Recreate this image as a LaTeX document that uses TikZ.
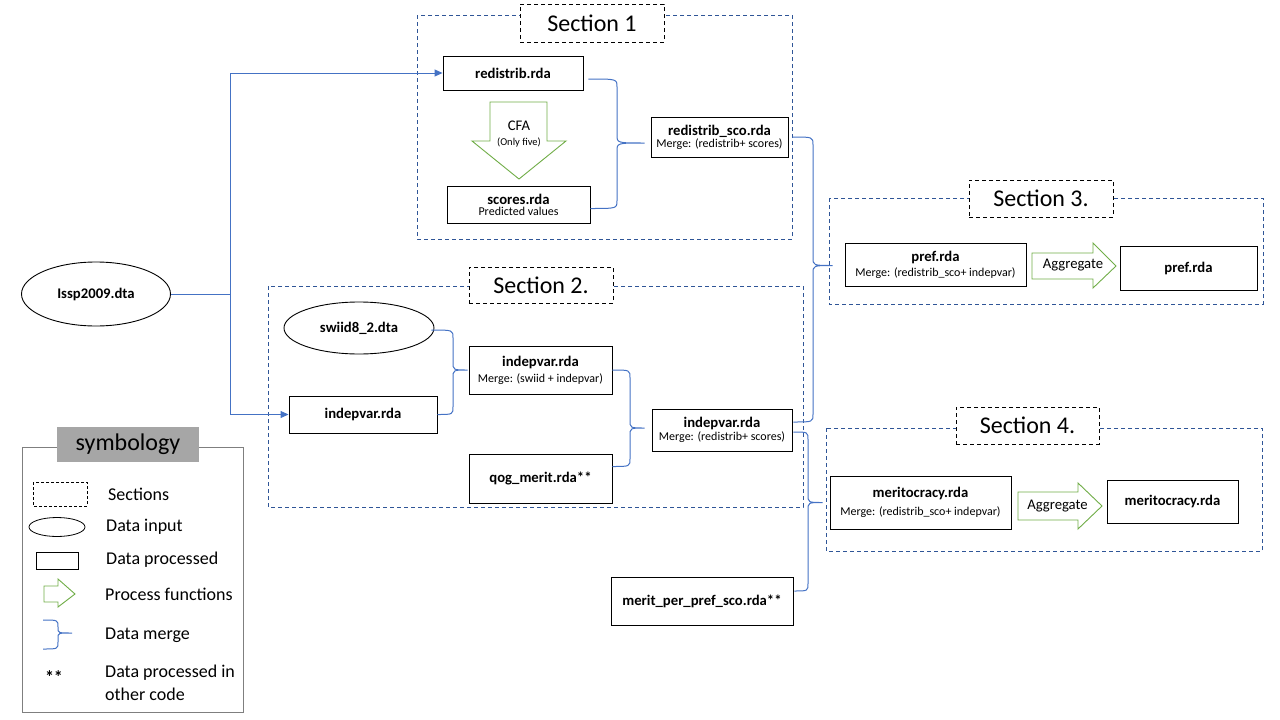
\documentclass[tikz,border=0pt]{standalone}
\usepackage{fontspec}
\setmainfont{Carlito}
\usetikzlibrary{arrows.meta,shapes.geometric,calc}
\definecolor{cblue}{HTML}{4472C4}
\definecolor{sblue}{HTML}{2F5597}
\definecolor{cgreen}{HTML}{70AD47}
\definecolor{lgray}{HTML}{A6A6A6}
\definecolor{bgray}{HTML}{7F7F7F}
\newcommand{\nodebf}{\fontsize{14.7}{15}\selectfont\bfseries}
\newcommand{\nodesm}{\fontsize{12}{13}\selectfont\mdseries}
\newcommand{\mergebrace}[4]{%
 \draw[mrg] let \p1=(#1),\p2=(#2),\p3=(#4) in
 (\p1) .. controls (#3pt,\y1) .. (#3pt,\y1-8pt) -- (#3pt,\y3+8pt) .. controls (#3pt,\y3) .. (\p3)
 (\p2) .. controls (#3pt,\y2) .. (#3pt,\y2+8pt) -- (#3pt,\y3-8pt) .. controls (#3pt,\y3) .. (\p3);}
\tikzset{
 box/.style={draw=black, line width=0.9pt, inner sep=0pt, align=center, fill=white},
 ell/.style={ellipse, draw=black, line width=0.9pt, inner sep=0pt, fill=white},
 sect/.style={draw=sblue, dash pattern=on 4pt off 3pt, line width=0.9pt},
 stitle/.style={draw=black, dash pattern=on 4pt off 3pt, fill=white, line width=0.9pt, inner sep=0pt, font=\fontsize{24}{28}\selectfont},
 garrow/.style={draw=cgreen, line width=0.9pt, fill=white},
 mrg/.style={draw=cblue, line width=1pt},
 flow/.style={draw=cblue, line width=1pt},
 flowarr/.style={flow, -{Triangle[length=8pt,width=7pt]}},
 plain/.style={inner sep=0pt, font=\fontsize{14.7}{16}\selectfont},
 legt/.style={inner sep=0pt, anchor=west, font=\fontsize{18}{23}\selectfont},
}
\begin{document}
\begin{tikzpicture}[x=1pt,y=-1pt]
\useasboundingbox (0,0) rectangle (1280,720);
% ---------- section frames ----------
\draw[sect] (417,15) rectangle (792,239);
\draw[sect] (268,286) rectangle (803,507);
\draw[sect] (829,198) rectangle (1263,304);
\draw[sect] (826,428) rectangle (1262,551);
\node[stitle, minimum width=144, minimum height=38] (s1) at (592,23) {Section 1};
\node[stitle, minimum width=144, minimum height=36] (s2) at (541,285) {Section 2.};
\node[stitle, minimum width=144, minimum height=37] (s3) at (1041,198.5) {Section 3.};
\node[stitle, minimum width=143, minimum height=37] (s4) at (1027.5,425.5) {Section 4.};
% ---------- input ----------
\node[ell, minimum width=149, minimum height=64] (lssp) at (96,294) {\nodebf Issp2009.dta};
% ---------- section 1 ----------
\node[box, minimum width=140, minimum height=34] (redis) at (513,73) {\nodebf redistrib.rda};
\draw[garrow] (490,102) -- (547,102) -- (547,141) -- (566,141) -- (519,179) -- (472,141) -- (490,141) -- cycle;
\node[plain] (cfa) at (519,126) {CFA};
\node[inner sep=0pt, font=\fontsize{10.5}{12}\selectfont] (cfa2) at (519,143) {(Only five)};
\node[box, minimum width=143, minimum height=37] (scores) at (518.5,204.5) {\nodebf scores.rda\\[-1pt]\nodesm Predicted values};
\node[box, minimum width=137, minimum height=40] (rsco) at (719.5,137) {\nodebf redistrib\_sco.rda\\[0pt]\nodesm Merge: (redistrib+ scores)};
% ---------- section 2 ----------
\node[ell, minimum width=150, minimum height=52] (swiid) at (359,328) {\nodebf swiid8\_2.dta};
\node[box, minimum width=148, minimum height=37] (ind1) at (363,414.5) {\nodebf indepvar.rda};
\node[box, minimum width=143, minimum height=48] (ind2) at (540.5,370) {\nodebf indepvar.rda\\[4pt]\nodesm Merge: (swiid + indepvar)};
\node[box, minimum width=143, minimum height=49] (qog) at (540.5,478.5) {\nodebf qog\_merit.rda**};
\node[box, minimum width=140, minimum height=42] (ind3) at (722,430) {\nodebf indepvar.rda\\[1pt]\nodesm Merge: (redistrib+ scores)};
\node[box, minimum width=182, minimum height=48] (mpp) at (702,601) {\nodebf merit\_per\_pref\_sco.rda**};
% ---------- section 3 ----------
\node[box, minimum width=181, minimum height=43] (pref1) at (935.5,264.5) {\nodebf pref.rda\\[3pt]\nodesm Merge: (redistrib\_sco+ indepvar)};
\draw[garrow] (1032,253) -- (1093,253) -- (1093,243) -- (1116,266) -- (1093,288) -- (1093,279) -- (1032,279) -- cycle;
\node[plain] (agg3) at (1073,265) {Aggregate};
\node[box, minimum width=137, minimum height=44] (pref2) at (1188.5,268) {\nodebf pref.rda};
% ---------- section 4 ----------
\node[box, minimum width=181, minimum height=53] (mer1) at (920.5,502.5) {\nodebf meritocracy.rda\\[6pt]\nodesm Merge: (redistrib\_sco+ indepvar)};
\draw[garrow] (1018,492) -- (1078,492) -- (1078,483) -- (1102,506) -- (1078,529) -- (1078,520) -- (1018,520) -- cycle;
\node[plain] (agg4) at (1057.5,506) {Aggregate};
\node[box, minimum width=131, minimum height=43] (mer2) at (1172.5,501.5) {\nodebf meritocracy.rda};
% ---------- flow connectors ----------
\coordinate (split) at (230,294);
\draw[flow] (lssp.east) -- (split);
\draw[flowarr] (split) |- (redis.west);
\draw[flowarr] (split) |- (ind1.west);
% ---------- merge braces ----------
\mergebrace{[xshift=5pt,yshift=-6pt]redis.east}{[yshift=-4pt]scores.east}{617}{[xshift=-6pt,yshift=-6pt]rsco.west}
\mergebrace{[xshift=-3pt,yshift=-2pt]swiid.east}{ind1.east}{453}{[xshift=-1pt]ind2.west}
\mergebrace{ind2.east}{[yshift=12pt]qog.east}{630}{[xshift=-7pt,yshift=2pt]ind3.west}
\mergebrace{[xshift=4pt]rsco.east}{[xshift=1pt,yshift=8pt]ind3.east}{813}{[xshift=-12pt,yshift=-1pt]pref1.west}
\mergebrace{[xshift=1pt,yshift=-2pt]ind3.east}{[xshift=1pt,yshift=10pt]mpp.east}{808}{[xshift=-7pt]mer1.west}
% ---------- legend ----------
\draw[draw=bgray, line width=0.9pt] (22,447) rectangle (243,712);
\node[fill=lgray, minimum width=142, minimum height=35, inner sep=0pt, font=\fontsize{24}{28}\selectfont] (symb) at (128,444.5) {symbology};
\draw[black, line width=0.8pt, dash pattern=on 3pt off 2pt] (33,482) rectangle (87,506);
\draw[black, line width=0.8pt] (57,527) ellipse [x radius=28, y radius=9.5];
\draw[black, line width=0.8pt] (36,552) rectangle (78,569);
\draw[garrow] (44,586) -- (58,586) -- (58,579) -- (75,594) -- (58,607) -- (58,602) -- (44,602) -- cycle;
\draw[mrg] (43,620) .. controls (58,620) .. (58,627) -- (58,628) .. controls (58,633) .. (72,633)
           (43,649) .. controls (58,649) .. (58,642) -- (58,638) .. controls (58,633) .. (72,633);
\node[legt] (l1) at (108,494) {Sections};
\node[legt] (l2) at (106,527) {Data input};
\node[legt] (l3) at (106,560) {Data processed};
\node[legt] (l4) at (105,594) {Process functions};
\node[legt] (l5) at (105,635) {Data merge};
\node[inner sep=0pt, font=\fontsize{18}{20}\selectfont\bfseries] (l6s) at (54,677) {**};
\node[legt, align=left] (l6) at (105,683) {Data processed in\\other code};
\end{tikzpicture}
\end{document}
